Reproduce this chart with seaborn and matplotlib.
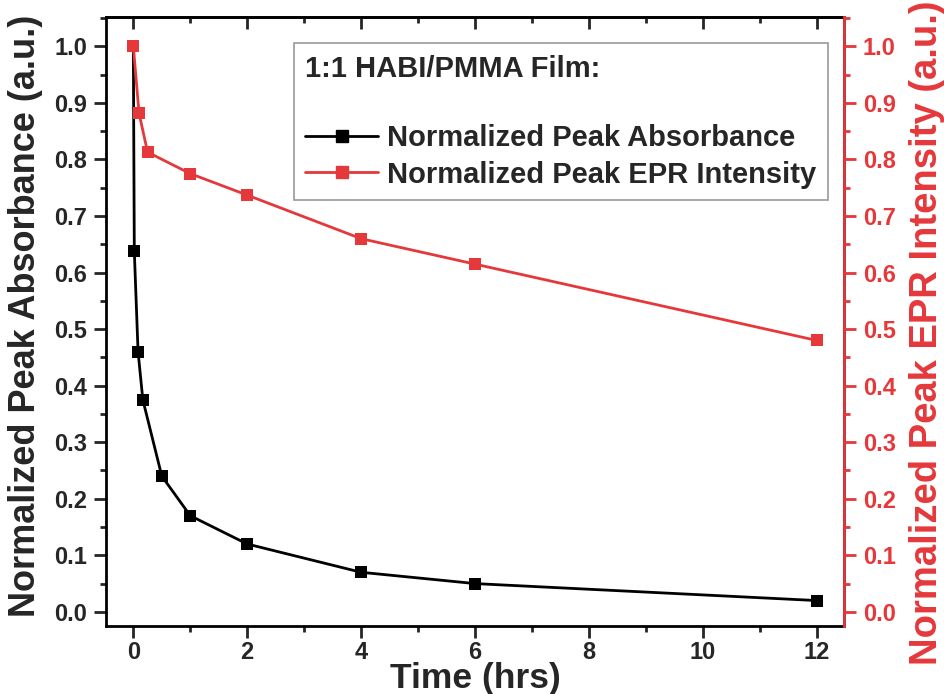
import matplotlib
matplotlib.use("Agg")
import matplotlib.pyplot as plt
from matplotlib.ticker import MultipleLocator, FormatStrFormatter
from matplotlib.lines import Line2D
import seaborn as sns
import pandas as pd

# Decay data for the 1:1 HABI/PMMA film
abs_time = [0, 0.017, 0.083, 0.167, 0.5, 1, 2, 4, 6, 12]
abs_values = [1.0, 0.638, 0.46, 0.375, 0.24, 0.17, 0.12, 0.07, 0.05, 0.02]
epr_time = [0, 0.1, 0.25, 1, 2, 4, 6, 12]
epr_values = [1.0, 0.882, 0.813, 0.775, 0.737, 0.66, 0.615, 0.48]

RED = "#E5383B"

sns.set_theme(style="white")
plt.rcParams["font.family"] = ["Liberation Sans", "DejaVu Sans"]
plt.rcParams["font.weight"] = "bold"

fig = plt.figure(figsize=(9.44, 6.94), dpi=100)
ax = fig.add_axes([106 / 944, 1 - 626 / 694, (844 - 106) / 944, (626 - 17) / 694])
ax2 = ax.twinx()

df_abs = pd.DataFrame({"t": abs_time, "v": abs_values})
df_epr = pd.DataFrame({"t": epr_time, "v": epr_values})

sns.lineplot(data=df_abs, x="t", y="v", ax=ax, color="black", marker="s",
             markersize=9, markeredgewidth=0, linewidth=2, zorder=3)
sns.lineplot(data=df_epr, x="t", y="v", ax=ax2, color=RED, marker="s",
             markersize=9, markeredgewidth=0, linewidth=2, zorder=3)

for a in (ax, ax2):
    a.set_xlim(-0.48, 12.48)
    a.set_ylim(-0.025, 1.052)
    a.yaxis.set_major_locator(MultipleLocator(0.1))
    a.yaxis.set_minor_locator(MultipleLocator(0.05))
    a.yaxis.set_major_formatter(FormatStrFormatter("%.1f"))
ax.xaxis.set_major_locator(MultipleLocator(2))
ax.xaxis.set_minor_locator(MultipleLocator(1))

for s in ax.spines.values():
    s.set_color("black")
    s.set_linewidth(2)
for name, s in ax2.spines.items():
    s.set_linewidth(2)
    s.set_color(RED if name == "right" else "black")
ax2.spines["left"].set_visible(False)
ax2.spines["top"].set_visible(False)
ax2.spines["bottom"].set_visible(False)

MAJ, MIN = 8.5, 4.3
ax.tick_params(axis="x", which="both", direction="out", bottom=True, top=False,
               width=2, labelsize=17, pad=2)
ax.tick_params(axis="x", which="major", length=MAJ)
ax.tick_params(axis="x", which="minor", length=MIN)
ax.tick_params(axis="y", which="both", direction="out", left=True, width=2,
               labelsize=17, pad=5)
ax.tick_params(axis="y", which="major", length=MAJ)
ax.tick_params(axis="y", which="minor", length=MIN)
ax2.tick_params(axis="y", which="both", direction="out", right=True, width=2,
                colors=RED, labelsize=17, pad=5)
ax2.tick_params(axis="y", which="major", length=MAJ)
ax2.tick_params(axis="y", which="minor", length=MIN)

# ticks along the top edge, pointing inward
top = ax.secondary_xaxis("top")
top.xaxis.set_major_locator(MultipleLocator(2))
top.xaxis.set_minor_locator(MultipleLocator(1))
top.tick_params(axis="x", which="both", direction="in", width=2, labeltop=False)
top.tick_params(axis="x", which="major", length=MAJ)
top.tick_params(axis="x", which="minor", length=MIN)
top.spines["top"].set_linewidth(2)

for lab in ax.get_xticklabels() + ax.get_yticklabels() + ax2.get_yticklabels():
    lab.set_fontweight("bold")

ax.set_xlabel("Time (hrs)", fontsize=25.5, fontweight="bold")
ax.xaxis.set_label_coords(0.5, -0.0585)
ax.xaxis.label.set_va("top")
ax.set_ylabel("Normalized Peak Absorbance (a.u.)", fontsize=26,
              fontweight="bold")
ax.yaxis.set_label_coords(-0.085, 0.51)
ax2.set_ylabel("Normalized Peak EPR Intensity (a.u.)", fontsize=27.5,
               fontweight="bold", color=RED)
ax2.yaxis.set_label_coords(1.088, 0.481)

handles = [
    Line2D([], [], color="black", marker="s", markersize=9, linewidth=2),
    Line2D([], [], color=RED, marker="s", markersize=9, linewidth=2),
]
leg = ax2.legend(handles, ["Normalized Peak Absorbance", "Normalized Peak EPR Intensity"],
                 loc="upper right", frameon=True, fontsize=21,
                 title="1:1 HABI/PMMA Film:\n",
                 title_fontproperties={"size": 21, "weight": "bold"},
                 handlelength=2.5, handletextpad=0.3, borderpad=0.4,
                 borderaxespad=0, labelspacing=0.3, fancybox=False,
                 alignment="left")
leg.set_bbox_to_anchor(((828 - 106) / (844 - 106), (626 - 43) / (626 - 17)),
                       transform=ax2.transAxes)
leg.get_frame().set_edgecolor("#808080")
leg.get_frame().set_linewidth(1.2)
for t in leg.get_texts():
    t.set_fontweight("bold")

fig.savefig("out.png", dpi=100)
